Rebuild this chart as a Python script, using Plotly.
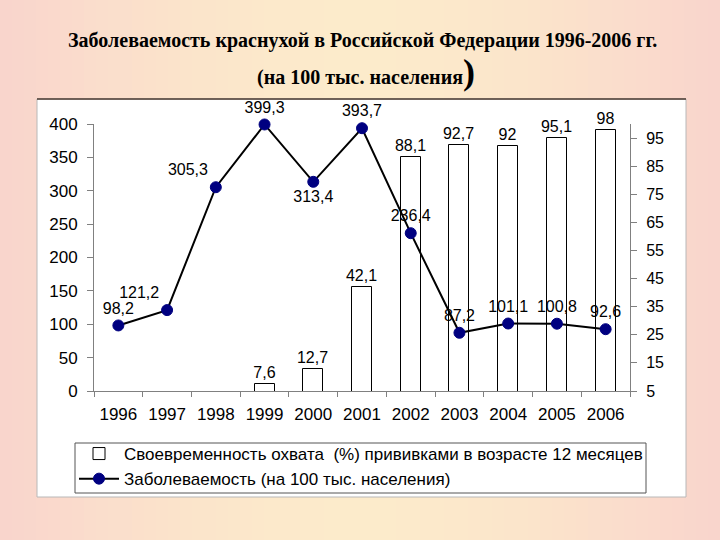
import plotly.graph_objects as go

# ---- data ----
years = ["1996", "1997", "1998", "1999", "2000", "2001", "2002", "2003", "2004", "2005", "2006"]
incidence = [98.2, 121.2, 305.3, 399.3, 313.4, 393.7, 236.4, 87.2, 101.1, 100.8, 92.6]
bar_years = ["1999", "2000", "2001", "2002", "2003", "2004", "2005", "2006"]
coverage = [7.6, 12.7, 42.1, 88.1, 92.7, 92.0, 95.1, 98.0]
left_ticks = [0, 50, 100, 150, 200, 250, 300, 350, 400]
right_ticks = [5, 15, 25, 35, 45, 55, 65, 75, 85, 95]

title1 = "Заболеваемость краснухой в Российской Федерации 1996-2006 гг."
title2 = "(на 100 тыс. населения"
bar_name = "Своевременность охвата  (%) прививками в возрасте 12 месяцев"
line_name = "Заболеваемость (на 100 тыс. населения)"

def fmt(v):
    s = f"{v:.1f}".replace(".", ",")
    return s[:-2] if s.endswith(",0") else s

# label positions for line points
line_pos = ["top center", "top left", "top left", "top center", "bottom center",
            "top center", "top center", "top center", "top center", "top center", "top center"]

# ---- layout geometry (pixels) ----
W, H = 720, 540
ML, MR, MT, MB = 94, 90, 124, 149
PW, PH = W - ML - MR, H - MT - MB

def px(x):
    return (x - ML) / PW

def py(y):
    return 1 - (y - MT) / PH

FONT = "Liberation Sans, Arial"
label_font = dict(family=FONT, size=16, color="black")

fig = go.Figure()

fig.add_trace(go.Bar(
    x=bar_years, y=coverage, name=bar_name, yaxis="y",
    marker=dict(color="white", line=dict(color="black", width=1)),
    width=0.41,
    text=[fmt(v) for v in coverage], textposition="outside",
    textfont=label_font, outsidetextfont=label_font,
    constraintext="none", cliponaxis=False,
))

fig.add_trace(go.Scatter(
    x=years, y=incidence, name=line_name, yaxis="y2", mode="lines+markers+text",
    line=dict(color="black", width=2),
    marker=dict(color="#000080", size=11, line=dict(color="#000080", width=1)),
    text=[fmt(v) for v in incidence], textposition=line_pos,
    textfont=label_font,
    cliponaxis=False,
))

# background gradient strips
def mix(c1, c2, t):
    return "rgb(%d,%d,%d)" % tuple(round(a + (b - a) * t) for a, b in zip(c1, c2))

center = (252, 235, 203)
edge = (249, 212, 204)
shapes = []
N = 60
for i in range(N):
    x0 = i * W / N
    x1 = (i + 1) * W / N + 1
    xc = (x0 + x1) / 2
    t = min(1, abs(xc - W / 2) / (W / 2)) ** 1.6
    shapes.append(dict(type="rect", xref="paper", yref="paper", layer="below",
                       x0=px(x0), x1=px(x1), y0=py(H), y1=py(0),
                       fillcolor=mix(center, edge, t), line=dict(width=0)))
# white chart box
shapes.append(dict(type="rect", xref="paper", yref="paper", layer="below",
                   x0=px(37), x1=px(686), y0=py(497), y1=py(99),
                   fillcolor="white", line=dict(color="#b8b8b8", width=1)))
shapes.append(dict(type="line", xref="paper", yref="paper", layer="below",
                   x0=px(37), x1=px(686), y0=py(99), y1=py(99),
                   line=dict(color="#4a3a30", width=1.5)))
# legend box
shapes.append(dict(type="rect", xref="paper", yref="paper", layer="below",
                   x0=px(75), x1=px(646), y0=py(493), y1=py(443),
                   fillcolor="white", line=dict(color="#555555", width=1)))

annotations = [
    dict(text="<b>" + title1 + "</b>", xref="paper", yref="paper",
         x=px(362), y=py(40), xanchor="center", yanchor="middle", showarrow=False,
         font=dict(family="Liberation Serif, Times New Roman", size=20, color="black")),
    dict(text="<b>" + title2 + "<span style='font-size:36px'>)</span></b>", xref="paper", yref="paper",
         x=px(366), y=py(72), xanchor="center", yanchor="middle", showarrow=False,
         font=dict(family="Liberation Serif, Times New Roman", size=20, color="black")),
]

axis_font = dict(family=FONT, size=16, color="black")

fig.update_layout(
    width=W, height=H,
    margin=dict(l=ML, r=MR, t=MT, b=MB, pad=0),
    paper_bgcolor="#fbe3cb",
    plot_bgcolor="rgba(0,0,0,0)",
    shapes=shapes,
    annotations=annotations,
    showlegend=True,
    bargap=0,
    xaxis=dict(type="category", categoryorder="array", categoryarray=years,
               range=[-0.5, 10.5], showline=True, linecolor="#808080", linewidth=1,
               ticks="outside", tickson="boundaries", ticklen=5, tickcolor="#808080",
               ticklabelstandoff=8,
               showgrid=False, tickfont=dict(family=FONT, size=17, color="black")),
    yaxis=dict(side="right", range=[5, 100], tickvals=right_ticks, showline=True,
               linecolor="#808080", linewidth=1, ticks="outside", ticklen=6, tickcolor="#808080",
               ticklabelstandoff=6,
               showgrid=False, zeroline=False, tickfont=axis_font),
    yaxis2=dict(side="left", overlaying="y", range=[0, 400], tickvals=left_ticks, showline=True,
                linecolor="#808080", linewidth=1, ticks="outside", ticklen=6, tickcolor="#808080",
                ticklabelstandoff=6,
                showgrid=False, zeroline=False, tickfont=dict(family=FONT, size=17, color="black")),
    legend=dict(x=px(74), y=py(436), xanchor="left", yanchor="top",
                orientation="v", bgcolor="rgba(0,0,0,0)", borderwidth=0,
                font=dict(family=FONT, size=17, color="black"),
                itemwidth=40, tracegroupgap=0),
)

fig.write_html("out.html")
